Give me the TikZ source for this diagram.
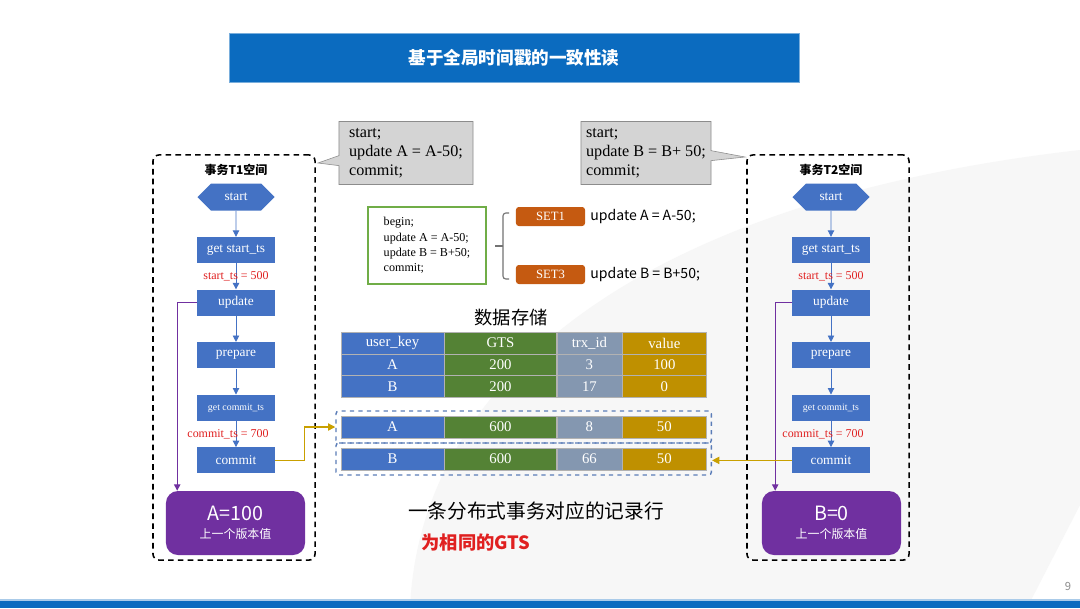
\documentclass[tikz,border=0pt]{standalone}
\usepackage{fontspec}
\setmainfont{Liberation Serif}
\newfontfamily\cjkfont{Noto Sans CJK SC}
\definecolor{flowblue}{HTML}{4472C4}
\definecolor{titleblue}{HTML}{0B6BBF}
\definecolor{setorange}{HTML}{C55A11}
\definecolor{prevpurple}{HTML}{7030A0}
\definecolor{gtsgreen}{HTML}{548235}
\definecolor{trxgray}{HTML}{8497B0}
\definecolor{valgold}{HTML}{BF9000}
\definecolor{linkgold}{HTML}{C9A000}
\definecolor{codegreen}{HTML}{70AD47}
\definecolor{tsred}{HTML}{E02020}
\definecolor{fencegray}{HTML}{5B7DB8}
\usetikzlibrary{arrows.meta,positioning,fit,shapes.symbols,shapes.callouts}

\begin{document}
\begin{tikzpicture}[
    x=0.025cm, y=-0.025cm,
    node distance=0.65cm,
    flowbox/.style={fill=flowblue, text=white, minimum width=1.925cm,
                    minimum height=0.65cm, inner sep=0pt, font=\fontsize{9.5}{11}\selectfont},
    startbox/.style={flowbox, shape=signal, signal to=west and east, minimum height=0.675cm},
    flowarrow/.style={-{Triangle[length=1.6mm,width=1.6mm]}, flowblue, line width=0.6pt},
    tslabel/.style={text=tsred, font=\fontsize{8.5}{10}\selectfont, inner sep=0pt},
    prevbox/.style={fill=prevpurple, text=white, rounded corners=0.3cm, minimum width=3.475cm,
                    minimum height=1.6cm, align=center},
    prevarrow/.style={-{Triangle[length=1.6mm,width=1.6mm]}, prevpurple, line width=0.8pt},
    linkarrow/.style={-{Triangle[length=1.8mm,width=1.8mm]}, linkgold, line width=0.9pt},
    spacebox/.style={draw, line width=1.1pt, dash pattern=on 4pt off 3pt, rounded corners=0.15cm,
                     minimum width=4.05cm, minimum height=10.125cm},
    spacelabel/.style={font=\cjkfont\bfseries\fontsize{8.5}{10}\selectfont},
    callbox/.style={rectangle callout, draw=black!45, fill=black!17, align=left,
                    minimum height=1.575cm, font=\fontsize{11.5}{13.5}\selectfont},
    codebox/.style={draw=codegreen, line width=0.8pt, minimum height=1.925cm, minimum width=2.95cm,
                    align=left, font=\fontsize{8.6}{11}\selectfont},
    setbox/.style={fill=setorange, text=white, rounded corners=2pt, minimum width=1.725cm,
                   minimum height=0.475cm, inner sep=0pt, font=\fontsize{9}{10}\selectfont},
    settext/.style={font=\cjkfont\fontsize{10}{12}\selectfont, inner sep=0pt},
    cell/.style={text=white, draw=black!30, line width=0.3pt, minimum height=0.55cm,
                 inner sep=0pt, font=\fontsize{10.5}{12}\selectfont},
    rowfence/.style={draw=fencegray, dashed, line width=1pt, rounded corners=2pt, inner sep=0.12cm}
]

% ── Page background ──
\useasboundingbox (0,0) rectangle (1080,608);
\fill[white] (0,0) rectangle (1080,608);
\fill[black!3] (410,608) .. controls (420,380) and (640,200) .. (1080,150) -- (1080,505) -- (1027,608) -- cycle;
\fill[titleblue!35] (0,599) rectangle (1080,601);
\fill[titleblue] (0,601) rectangle (1080,608);
\node[text=black!45, font=\cjkfont\fontsize{8}{9}\selectfont] (pagenum) at (1068,586) {9};

% ── Title ──
\node[fill=titleblue, draw=titleblue!55!white, text=white, minimum width=14.25cm, minimum height=1.225cm,
      font=\cjkfont\bfseries\fontsize{12.5}{14}\selectfont] (title) at (514,57.5) {基于全局时间戳的一致性读};

% ── Transaction spaces ──
\node[spacebox] (space1) at (234,357.5) {};
\node[spacebox] (space2) at (828,357.5) {};
\node[spacelabel] (space1lbl) at (236,170) {事务T1空间};
\node[spacelabel] (space2lbl) at (831,170) {事务T2空间};

% ── T1 flow ──
\node[startbox] (start1) at (236,197) {start};
\node[flowbox, below=of start1] (getstart1) {get start\_ts};
\node[flowbox, below=of getstart1] (update1) {update};
\node[flowbox, below=of update1] (prepare1) {prepare};
\node[flowbox, below=of prepare1, font=\fontsize{7}{8}\selectfont] (getcommit1) {get commit\_ts};
\node[flowbox, below=of getcommit1] (commit1) {commit};
\node[prevbox] (prev1) at (235.5,523) {{\cjkfont\fontsize{14}{16}\selectfont A=100}\\[1pt]{\cjkfont\fontsize{8.5}{10}\selectfont 上一个版本值}};

% ── T2 flow ──
\node[startbox] (start2) at (831,197) {start};
\node[flowbox, below=of start2] (getstart2) {get start\_ts};
\node[flowbox, below=of getstart2] (update2) {update};
\node[flowbox, below=of update2] (prepare2) {prepare};
\node[flowbox, below=of prepare2, font=\fontsize{7}{8}\selectfont] (getcommit2) {get commit\_ts};
\node[flowbox, below=of getcommit2] (commit2) {commit};
\node[prevbox] (prev2) at (831.5,523) {{\cjkfont\fontsize{14}{16}\selectfont B=0}\\[1pt]{\cjkfont\fontsize{8.5}{10}\selectfont 上一个版本值}};

% ── Code callouts ──
\node[callbox, minimum width=3.35cm, callout absolute pointer={(318,163)}] (code1) at (406,153)
    {start;\\update A = A-50;\\commit;};
\node[callbox, minimum width=3.25cm, callout absolute pointer={(745,157)}] (code2) at (646,153)
    {start;\\update B = B+ 50;\\commit;};

% ── Distributed transaction split ──
\node[codebox] (dtx) at (427,245.5) {begin;\\update A = A-50;\\update B = B+50;\\commit;};
\draw[black!55, line width=0.8pt, rounded corners=2pt] (509,213) -- (503,213) -- (503,279) -- (509,279);
\draw[black!55, line width=0.8pt] (503,246) -- (495,246);
\node[setbox] (set1) at (550.5,216.5) {SET1};
\node[setbox] (set3) at (550.5,274.5) {SET3};
\node[settext, right=0.12cm of set1] (set1txt) {update A = A-50;};
\node[settext, right=0.12cm of set3] (set3txt) {update B = B+50;};

% ── Data storage table ──
\node[font=\cjkfont\fontsize{13}{15}\selectfont] (storelbl) at (511,318) {数据存储};
\foreach \r/\y/\k/\g/\t/\v in {hdr/343/user\_key/GTS/trx\_id/value, ra/365/A/200/3/100,
    rb/386.5/B/200/17/0, na/427/A/600/8/50, nb/459/B/600/66/50} {
  \node[cell, fill=flowblue, minimum width=2.575cm] (\r-k) at (392.5,\y) {\k};
  \node[cell, fill=gtsgreen, minimum width=2.8cm, right=0pt of \r-k] (\r-g) {\g};
  \node[cell, fill=trxgray, minimum width=1.625cm, right=0pt of \r-g] (\r-t) {\t};
  \node[cell, fill=valgold, minimum width=2.1cm, right=0pt of \r-t] (\r-v) {\v};
}
\node[rowfence, fit=(na-k)(na-v)] (fenceA) {};
\node[rowfence, fit=(nb-k)(nb-v)] (fenceB) {};

\node[font=\cjkfont\fontsize{14}{16}\selectfont] (note1) at (536,511) {一条分布式事务对应的记录行};
\node[text=tsred, font=\cjkfont\bfseries\fontsize{13}{15}\selectfont] (note2) at (476,543) {为相同的GTS};

% ── Arrows (T1) ──
\draw[flowarrow] (start1) -- (getstart1);
\draw[flowarrow] (getstart1) -- node[tslabel] {start\_ts = 500} (update1);
\draw[flowarrow] (update1) -- (prepare1);
\draw[flowarrow] (prepare1) -- (getcommit1);
\draw[flowarrow] (getcommit1) -- node[tslabel, xshift=-0.2cm] {commit\_ts = 700} (commit1);
\draw[prevarrow] (update1.west) -- ++(-0.5cm,0) coordinate (bend1) -- (bend1 |- prev1.north);
\draw[linkarrow] (commit1.east) -- ++(0.75cm,0) |- (fenceA.west);

% ── Arrows (T2) ──
\draw[flowarrow] (start2) -- (getstart2);
\draw[flowarrow] (getstart2) -- node[tslabel] {start\_ts = 500} (update2);
\draw[flowarrow] (update2) -- (prepare2);
\draw[flowarrow] (prepare2) -- (getcommit2);
\draw[flowarrow] (getcommit2) -- node[tslabel, xshift=-0.2cm] {commit\_ts = 700} (commit2);
\draw[prevarrow] (update2.west) -- ++(-0.425cm,0) coordinate (bend2) -- (bend2 |- prev2.north);
\draw[linkarrow] (commit2.west) -- (commit2.west -| fenceB.east);

\end{tikzpicture}
\end{document}
